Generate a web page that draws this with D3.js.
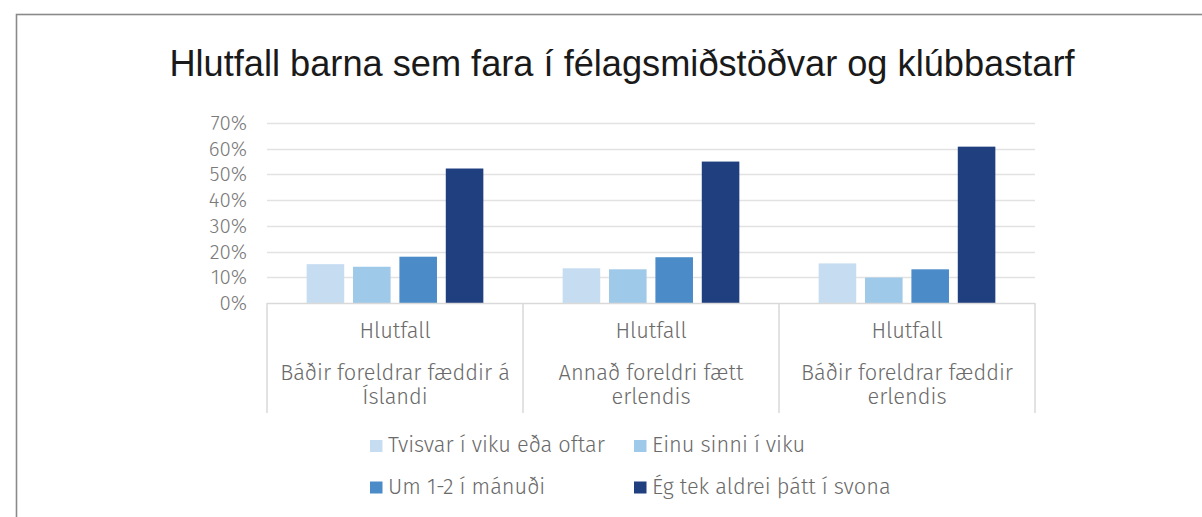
<!DOCTYPE html>
<html lang="is">
<head>
    <meta charset="UTF-8">
    <title>Hlutfall barna sem fara í félagsmiðstöðvar og klúbbastarf</title>
    <script src="https://d3js.org/d3.v7.min.js"></script>
    <style>
        body { margin: 0; padding: 0; background: #fff; }
        svg { display: block; }
        .tick-label, .cat-label, .legend-label {
            font-family: "Fira Sans", "Open Sans", "Noto Sans", sans-serif;
            font-weight: 300;
        }
    </style>
</head>
<body>
<div id="chart"></div>
<script>
    // data
    const groups = ["g1", "g2", "g3"];
    const groupTop = ["Hlutfall", "Hlutfall", "Hlutfall"];
    const groupLines = [
        ["Báðir foreldrar fæddir á", "Íslandi"],
        ["Annað foreldri fætt", "erlendis"],
        ["Báðir foreldrar fæddir", "erlendis"]
    ];
    const series = ["Tvisvar í viku eða oftar", "Einu sinni í viku", "Um 1-2 í mánuði", "Ég tek aldrei þátt í svona"];
    const colors = ["#c6ddf1", "#9fc9e9", "#4a8bc8", "#1f3f7f"];
    const twiceWeek = [15.1, 13.5, 15.4];
    const onceWeek = [14.1, 13.1, 9.9];
    const monthly = [18.0, 17.8, 13.1];
    const never = [52.3, 55.0, 60.8];
    const yTicks = [0, 10, 20, 30, 40, 50, 60, 70];

    const values = [twiceWeek, onceWeek, monthly, never];

    const width = 1202, height = 517;
    const svg = d3.select("#chart").append("svg")
        .attr("width", width)
        .attr("height", height);

    // outer frame
    svg.append("rect")
        .attr("x", 16.5).attr("y", 14.5)
        .attr("width", 1200).attr("height", 520)
        .attr("fill", "none")
        .attr("stroke", "#8a8a8a")
        .attr("stroke-width", 1.6);

    svg.append("text")
        .attr("x", 622).attr("y", 76)
        .attr("text-anchor", "middle")
        .style("font-family", "'Liberation Sans', Arial, sans-serif")
        .style("font-size", "36.2px")
        .attr("fill", "#1a1a1a")
        .text("Hlutfall barna sem fara í félagsmiðstöðvar og klúbbastarf");

    const plotLeft = 267, plotRight = 1035, plotTop = 123, plotBottom = 303;

    const y = d3.scaleLinear().domain([0, 70]).range([plotBottom, plotTop]);
    const x0 = d3.scaleBand().domain(groups).range([plotLeft, plotRight]).padding(0);
    const x1 = d3.scaleBand().domain(series).range([0, x0.bandwidth()])
        .paddingInner(0.19).paddingOuter(0.855);

    // gridlines
    svg.append("g").selectAll("line")
        .data(yTicks.slice(1))
        .join("line")
        .attr("x1", plotLeft).attr("x2", plotRight)
        .attr("y1", d => Math.round(y(d)) + 0.5).attr("y2", d => Math.round(y(d)) + 0.5)
        .attr("stroke", "#e2e2e2")
        .attr("stroke-width", 1.5);

    // y axis labels
    const yAxis = d3.axisLeft(y).tickValues(yTicks).tickFormat(d => d + "%").tickSize(0).tickPadding(0);
    const yg = svg.append("g").attr("transform", `translate(247,0)`).call(yAxis);
    yg.select(".domain").remove();
    yg.selectAll("text")
        .attr("class", "tick-label")
        .attr("fill", "#7a7a7a")
        .style("font-size", "20.5px");

    // bars
    const barG = svg.append("g").selectAll("g")
        .data(groups)
        .join("g")
        .attr("transform", d => `translate(${x0(d)},0)`);

    barG.selectAll("rect")
        .data((g, gi) => series.map((s, si) => ({ s, si, v: values[si][gi] })))
        .join("rect")
        .attr("x", d => x1(d.s))
        .attr("y", d => y(d.v))
        .attr("width", x1.bandwidth())
        .attr("height", d => y(0) - y(d.v))
        .attr("fill", d => colors[d.si]);

    // category axis: baseline and dividers
    svg.append("line")
        .attr("x1", plotLeft).attr("x2", plotRight)
        .attr("y1", plotBottom + 0.5).attr("y2", plotBottom + 0.5)
        .attr("stroke", "#d9d9d9").attr("stroke-width", 1.5);

    const dividers = groups.map(g => x0(g)).concat([plotRight]);
    svg.append("g").selectAll("line")
        .data(dividers)
        .join("line")
        .attr("x1", d => d).attr("x2", d => d)
        .attr("y1", plotBottom).attr("y2", 413)
        .attr("stroke", "#d9d9d9").attr("stroke-width", 1.5);

    const catG = svg.append("g").selectAll("g")
        .data(groups)
        .join("g")
        .attr("transform", d => `translate(${x0(d) + x0.bandwidth() / 2},0)`);

    catG.append("text")
        .attr("class", "cat-label")
        .attr("y", 338)
        .attr("text-anchor", "middle")
        .attr("fill", "#6a6a6a")
        .style("font-size", "21.8px")
        .text((d, i) => groupTop[i]);

    catG.each(function (d, i) {
        d3.select(this).selectAll("text.line")
            .data(groupLines[i])
            .join("text")
            .attr("class", "cat-label line")
            .attr("y", (t, j) => 380 + j * 24)
            .attr("text-anchor", "middle")
            .attr("fill", "#6a6a6a")
            .style("font-size", "21.8px")
            .text(t => t);
    });

    // legend
    const legendPos = [[370, 446], [634, 446], [370, 487.5], [634, 487.5]];
    const leg = svg.append("g").selectAll("g")
        .data(series)
        .join("g")
        .attr("transform", (d, i) => `translate(${legendPos[i][0]},${legendPos[i][1]})`);

    leg.append("rect")
        .attr("x", 0).attr("y", -6)
        .attr("width", 12.5).attr("height", 12)
        .attr("fill", (d, i) => colors[i]);

    leg.append("text")
        .attr("class", "legend-label")
        .attr("x", 18).attr("y", 6)
        .attr("fill", "#6a6a6a")
        .style("font-size", "21.8px")
        .text(d => d);
</script>
</body>
</html>
